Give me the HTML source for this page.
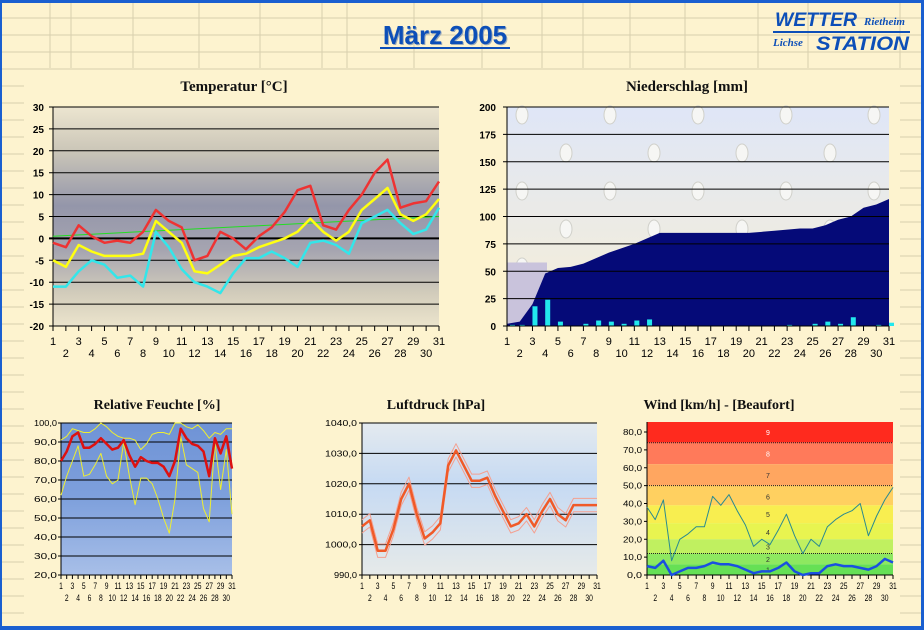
<!DOCTYPE html>
<html><head><meta charset="utf-8"><style>
html,body{margin:0;padding:0;width:924px;height:630px;overflow:hidden;background:#fdf3cf}
svg{display:block}
</style></head><body>
<svg id="s" width="924" height="630" xmlns="http://www.w3.org/2000/svg" font-family="Liberation Sans, sans-serif">
<defs>
<linearGradient id="gt" x1="0" y1="0" x2="0" y2="1">
<stop offset="0" stop-color="#ece5d0"/><stop offset="0.2" stop-color="#cbc6b8"/><stop offset="0.45" stop-color="#9496aa"/><stop offset="0.65" stop-color="#a5a4b0"/><stop offset="0.85" stop-color="#d2ccbb"/><stop offset="1" stop-color="#ebe4cc"/></linearGradient>
<linearGradient id="gp" x1="0" y1="0" x2="0" y2="1">
<stop offset="0" stop-color="#dfe6f7"/><stop offset="1" stop-color="#f7efd6"/></linearGradient>
<linearGradient id="gh" x1="0" y1="0" x2="0" y2="1">
<stop offset="0" stop-color="#6f93d6"/><stop offset="0.5" stop-color="#7ea0dc"/><stop offset="1" stop-color="#a8bfe8"/></linearGradient>
<linearGradient id="gl" x1="0" y1="0" x2="0" y2="1">
<stop offset="0" stop-color="#e4eaef"/><stop offset="0.4" stop-color="#c6daf3"/><stop offset="1" stop-color="#e6eae9"/></linearGradient>
</defs>
<g id="bg" stroke="#d8cfae" stroke-width="1"></g>
<rect x="0" y="0" width="924" height="3" fill="#1a5fd0"/>
<rect x="0" y="626" width="924" height="4" fill="#1a5fd0"/>
<rect x="0" y="0" width="2" height="630" fill="#1a5fd0"/>
<rect x="921" y="0" width="3" height="630" fill="#1a5fd0"/>
<text x="446" y="45" text-anchor="middle" font-size="26" font-weight="bold" fill="#9ab" >März 2005</text>
<text x="445" y="44" text-anchor="middle" font-size="26" font-weight="bold" fill="#0d4fb8">März 2005</text>
<rect x="380" y="47" width="130" height="2" fill="#0d4fb8"/>
<g font-style="italic" font-weight="bold" fill="#0d4fb8">
<text x="775" y="26" font-size="19" textLength="82" lengthAdjust="spacingAndGlyphs">WETTER</text>
<text x="864" y="25" font-size="11" font-family="Liberation Serif, serif">Rietheim</text>
<rect x="773" y="31" width="137" height="2"/>
<text x="773" y="46" font-size="11" font-family="Liberation Serif, serif">Lichse</text>
<text x="816" y="50" font-size="19" textLength="93" lengthAdjust="spacingAndGlyphs">STATION</text>
</g>
<g id="c"></g>
</svg>
<script>
const NS="http://www.w3.org/2000/svg";
const c=document.getElementById('c'), bg=document.getElementById('bg');
function el(p,t,a,txt){const e=document.createElementNS(NS,t);for(const k in a)e.setAttribute(k,a[k]);if(txt!==undefined)e.textContent=txt;p.appendChild(e);return e;}
for(let y=18;y<626;y+=17){ if(y<70){el(bg,'line',{x1:0,y1:y,x2:924,y2:y});} else {el(bg,'line',{x1:2,y1:y,x2:24,y2:y});el(bg,'line',{x1:900,y1:y,x2:921,y2:y});}}
[50,71,133,199,260,322,347,414,482,542,583,630,685,758,808,900].forEach(x=>el(bg,'line',{x1:x,y1:3,x2:x,y2:68}));
const serif="Liberation Serif, serif";
function title(x,y,t,s){el(c,'text',{x:x,y:y,'text-anchor':'middle','font-family':serif,'font-size':s||15,'font-weight':'bold',fill:'#111'},t);}
function poly(pts,a){el(c,'polyline',Object.assign({points:pts.map(p=>p[0].toFixed(1)+','+p[1].toFixed(1)).join(' '),fill:'none','stroke-linejoin':'round'},a));}
function xaxis(x0,x1,y,fs,dy1,dy2){const st=(x1-x0)/30;el(c,'line',{x1:x0,y1:y,x2:x1,y2:y,stroke:'#000'});
 for(let i=0;i<31;i++){const x=x0+i*st;el(c,'line',{x1:x,y1:y,x2:x,y2:y+5,stroke:'#000'});
 el(c,'text',{x:x,y:y+(i%2==0?dy1:dy2),'text-anchor':'middle','font-size':fs,fill:'#000'},String(i+1));}}
(function(){const x0=53,x1=439,yt=107,yb=326;const Y=v=>yt+(30-v)*(yb-yt)/50, X=i=>x0+i*(x1-x0)/30;
 title(234,91,'Temperatur [°C]');
 el(c,'rect',{x:x0,y:yt,width:x1-x0,height:yb-yt,fill:'url(#gt)'});
 for(let v=30;v>=-20;v-=5){const y=Y(v);el(c,'line',{x1:x0-4,y1:y,x2:x1,y2:y,stroke:'#000','stroke-width':v==0?2:1});el(c,'text',{x:44,y:y+4,'text-anchor':'end','font-size':10,'font-weight':'bold'},String(v));}
 el(c,'line',{x1:x0,y1:yt,x2:x0,y2:yb,stroke:'#000'});
 xaxis(x0,x1,yb,11,19,31);
 const R=[-1,-2,3,0.5,-1,-0.5,-1,1.5,6.5,4,2.5,-5,-4,1.5,0,-2.5,0.5,2.5,6,11,12,3,2,6.5,10,15,18,7,8,8.5,13];
 const Yl=[-5,-6.5,-1.5,-3,-4,-4,-4,-3.5,4,1.5,-1,-7.5,-8,-6,-4,-3.5,-2,-1,0,1.5,4.5,1.5,-0.5,1.5,6.5,9,11.5,5.5,4,5.5,9];
 const C=[-11,-11,-7.5,-5,-6,-9,-8.5,-11,1.5,-2,-7,-10,-11,-12.5,-8,-4.5,-4.5,-3,-4.5,-6.5,-1,-0.5,-1.5,-3.5,3.5,5,6.5,3.5,1,2,7];
 poly([[X(0),Y(0.5)],[X(30),Y(5)]],{stroke:'#22dd22','stroke-width':1});
 poly(C.map((v,i)=>[X(i),Y(v)]),{stroke:'#33e6ea','stroke-width':2.5});
 poly(Yl.map((v,i)=>[X(i),Y(v)]),{stroke:'#ffff10','stroke-width':2.5});
 poly(R.map((v,i)=>[X(i),Y(v)]),{stroke:'#ee3333','stroke-width':2.5});
})();
(function(){const x0=507,x1=889,yt=107,yb=326;const Y=v=>yb-v*(yb-yt)/200, X=i=>x0+i*(x1-x0)/30;
 title(687,91,'Niederschlag [mm]');
 el(c,'rect',{x:x0,y:yt,width:x1-x0,height:yb-yt,fill:'url(#gp)'});
 for(let r=0;r<5;r++)for(let k=0;k<6;k++){const dx=x0+15+k*88+(r%2)*44, dy=yt+8+r*38; if(dx<x1-5)el(c,'ellipse',{cx:dx,cy:dy,rx:6,ry:9,fill:'#f6f6f4',stroke:'#d0d0ca'});}
 el(c,'rect',{x:x0,y:Y(58),width:40,height:Y(0)-Y(58),fill:'#c9c3dc'});
 const cum=[2,4,20,48,53,54,57,62,67,71,75,80,85,85,85,85,85,85,85,85,86,87,88,89,89,92,97,100,108,111,112,116];
 const pts=cum.slice(0,31).map((v,i)=>[X(i),Y(v)]);
 pts[30]=[X(30),Y(116)];
 el(c,'polygon',{points:[[x0,yb]].concat(pts).concat([[x1,yb]]).map(p=>p.join(',')).join(' '),fill:'#050a78'});
 for(let v=0;v<=200;v+=25){const y=Y(v);el(c,'line',{x1:x0-4,y1:y,x2:x1,y2:y,stroke:'#000'});el(c,'text',{x:496,y:y+4,'text-anchor':'end','font-size':10,'font-weight':'bold'},String(v));}
 el(c,'line',{x1:x0,y1:yt,x2:x0,y2:yb,stroke:'#000'});
 const b=[1,1,18,24,4,0,2,5,4,2,5,6,0,0,0,0,0,0,0,0,0,0,1,0,2,4,2,8,0,1,3];
 const st=(x1-x0)/30;
 b.forEach((v,i)=>{if(v>0)el(c,'rect',{x:x0+i*st+(i?0:3),y:Y(v),width:5,height:Y(0)-Y(v),fill:'#22e8ee'});});
 xaxis(x0,x1,yb,11,19,31);
})();
function smallY(x0,x1,yt,yb,vmin,vmax,step,lx){const Y=v=>yb-(v-vmin)*(yb-yt)/(vmax-vmin);
 for(let v=vmin;v<=vmax;v+=step){const y=Y(v);el(c,'line',{x1:x0-3,y1:y,x2:x1,y2:y,stroke:'#000'});el(c,'text',{x:lx,y:y+3,'text-anchor':'end','font-size':8,'textLength':v>=1000?32:23,'lengthAdjust':'spacingAndGlyphs'},v.toFixed(1).replace('.',','));}
 el(c,'line',{x1:x0,y1:yt,x2:x0,y2:yb,stroke:'#000'});return Y;}
function smallX(x0,x1,yb){const st=(x1-x0)/30;el(c,'line',{x1:x0,y1:yb,x2:x1,y2:yb,stroke:'#000'});
 for(let i=0;i<31;i++){const x=x0+i*st;el(c,'line',{x1:x,y1:yb,x2:x,y2:yb+4,stroke:'#000'});el(c,'text',{x:x,y:yb+(i%2==0?14:26),'text-anchor':'middle','font-size':9,'transform':`translate(${x},0) scale(0.75,1) translate(${-x},0)`},String(i+1));}}
(function(){const x0=61,x1=232,yt=423,yb=575;
 title(157,409,'Relative Feuchte [%]',14);
 el(c,'rect',{x:x0,y:yt,width:x1-x0,height:yb-yt,fill:'url(#gh)'});
 const Y=smallY(x0,x1,yt,yb,20,100,10,57);const X=i=>x0+i*(x1-x0)/30;
 smallX(x0,x1,yb);
 const U=[91,93,97,96,95,95,97,100,98,95,93,92,92,91,86,89,94,95,95,94,100,100,98,97,99,96,92,95,94,97,97];
 const L=[62,72,80,88,72,73,78,84,72,68,70,90,72,57,71,71,68,60,50,42,60,93,78,76,74,55,48,90,65,86,52];
 const R=[80,85,93,95,87,87,89,92,89,86,87,91,83,77,82,80,79,79,77,72,80,97,92,89,88,85,72,92,84,93,76];
 poly(U.map((v,i)=>[X(i),Y(v)]),{stroke:'#eeee30','stroke-width':1});
 poly(L.map((v,i)=>[X(i),Y(v)]),{stroke:'#eeee30','stroke-width':1});
 poly(R.map((v,i)=>[X(i),Y(v)]),{stroke:'#dd1111','stroke-width':2.5});
})();
(function(){const x0=362,x1=597,yt=423,yb=575;
 title(436,409,'Luftdruck [hPa]',14);
 el(c,'rect',{x:x0,y:yt,width:x1-x0,height:yb-yt,fill:'url(#gl)'});
 const Y=smallY(x0,x1,yt,yb,990,1040,10,357);const X=i=>x0+i*(x1-x0)/30;
 smallX(x0,x1,yb);
 const P=[1006,1008,998,998,1005,1015,1020,1010,1002,1004,1007,1026,1031,1026,1021,1021,1022,1016,1011,1006,1007,1010,1006,1011,1015,1010,1008,1013,1013,1013,1013];
 poly(P.map((v,i)=>[X(i),Y(v+2.2)]),{stroke:'#f4a090','stroke-width':1});
 poly(P.map((v,i)=>[X(i),Y(v-2.2)]),{stroke:'#f4a090','stroke-width':1});
 poly(P.map((v,i)=>[X(i),Y(v)]),{stroke:'#f05a28','stroke-width':2.5});
})();
(function(){const x0=647,x1=893,yt=422,yb=575;
 title(719,409,'Wind [km/h] - [Beaufort]',14);
 const k=(yb-yt)/85.6;const Y=v=>yb-v*k;const X=i=>x0+i*(x1-x0)/30;
 const bands=[[85.6,74,'#ff2a1e'],[74,62,'#ff7a5a'],[62,50,'#ffa660'],[50,39,'#ffd060'],[39,29,'#f8ee50'],[29,20,'#e8f450'],[20,12,'#c0f060'],[12,6,'#8ee860'],[6,0,'#66e055']];
 bands.forEach(b=>el(c,'rect',{x:x0,y:Y(b[0]),width:x1-x0,height:Y(b[1])-Y(b[0]),fill:b[2]}));
 [74,50,12].forEach(v=>el(c,'line',{x1:x0,y1:Y(v),x2:x1,y2:Y(v),stroke:'#222','stroke-dasharray':'1,1'}));
 [[80,'9'],[68,'8'],[56,'7'],[44,'6'],[34,'5'],[24,'4'],[16,'3'],[9,'2'],[3,'1']].forEach(a=>el(c,'text',{x:768,y:Y(a[0])+3,'text-anchor':'middle','font-size':7,fill:a[0]>60?'#fff':'#333'},a[1]));
 for(let v=0;v<=80;v+=10){const y=Y(v);el(c,'line',{x1:x0-3,y1:y,x2:x0,y2:y,stroke:'#000'});el(c,'text',{x:642,y:y+3,'text-anchor':'end','font-size':8,'textLength':v?19:15,'lengthAdjust':'spacingAndGlyphs'},v.toFixed(1).replace('.',','));}
 el(c,'line',{x1:x0,y1:yt,x2:x0,y2:yb,stroke:'#000'});
 smallX(x0,x1,yb);
 const T=[38,31,42,8,20,23,27,27,44,39,45,36,28,16,20,17,25,34,22,12,20,16,27,31,34,36,40,22,33,42,49];
 const B=[5,4,8,0,2,4,4,5,7,6,6,5,3,1,2,2,4,7,2,0,1,1,5,6,5,5,4,3,5,9,7];
 poly(T.map((v,i)=>[X(i),Y(v)]),{stroke:'#2a8a90','stroke-width':1});
 poly(B.map((v,i)=>[X(i),Y(v)]),{stroke:'#1a50e0','stroke-width':2.5});
})();
</script>
</body></html>
